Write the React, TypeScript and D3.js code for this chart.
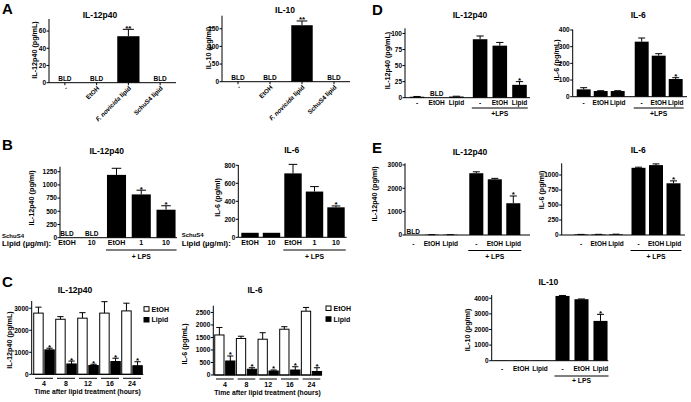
import React from "react";
import * as d3 from "d3";

const W = 691;
const H = 402;
const FONT = "'Liberation Sans', Arial, Helvetica, sans-serif";

// values, null = BLD (below limit of detection)
const aCategories = ["-", "EtOH", "F. novicida lipid", "SchuS4 lipid"];
const aIL12 = [null, null, 54, null];
const aIL12Err = [0, 0, 8, 0];
const aIL12Sig = ["", "", "**", ""];
const aIL10 = [null, null, 160, null];
const aIL10Err = [0, 0, 12, 0];
const aIL10Sig = ["", "", "**", ""];

const bCategories = ["EtOH", "10", "EtOH", "1", "10"];
const bIL12 = [null, null, 1190, 820, 530];
const bIL12Err = [0, 0, 125, 80, 75];
const bIL12Sig = ["", "", "", "*", "*"];
const bIL6 = [50, 50, 710, 508, 333];
const bIL6Err = [0, 0, 100, 55, 15];
const bIL6Sig = ["", "", "", "", "*"];

const cTimes = ["4", "8", "12", "16", "24"];
const cSeries = ["EtOH", "Lipid"];
const cIL12EtOH = [2780, 2500, 2550, 2780, 2880];
const cIL12EtOHErr = [270, 120, 250, 520, 350];
const cIL12Lipid = [1110, 470, 400, 580, 390];
const cIL12LipidErr = [75, 130, 55, 150, 180];
const cIL6EtOH = [1600, 1460, 1430, 1830, 2550];
const cIL6EtOHErr = [300, 90, 260, 100, 150];
const cIL6Lipid = [560, 230, 160, 200, 140];
const cIL6LipidErr = [200, 60, 40, 130, 150];
const cSig = ["*", "*", "*", "*", "*"];

const lpsCategories = ["-", "EtOH", "Lipid", "-", "EtOH", "Lipid"];
const dIL12 = [1.5, null, 1.8, 91, 81, 20];
const dIL12Err = [0.4, 0, 0.5, 5, 5, 5];
const dIL6 = [44, 34, 34, 330, 246, 106];
const dIL6Err = [10, 2, 2, 22, 12, 8];
const eIL12 = [null, 12, 12, 2645, 2385, 1360];
const eIL12Err = [0, 2, 2, 60, 40, 310];
const eIL6 = [8, 8, 10, 1120, 1165, 862];
const eIL6Err = [2, 3, 4, 10, 20, 40];
const eIL10 = [15, 25, 15, 4150, 3940, 2550];
const eIL10Err = [0, 0, 0, 30, 15, 420];
const lastSig = ["", "", "", "", "", "*"];

const fmt = d3.format("d");

function YAxis({ y, x0, base, top, ticks, label, labelAt }) {
  return (
    <g>
      <line x1={x0} x2={x0} y1={base} y2={top} stroke="#000" strokeWidth={1} />
      {ticks.map((t) => (
        <g key={t}>
          <line x1={x0 - 2.5} x2={x0} y1={y(t)} y2={y(t)} stroke="#000" strokeWidth={1} />
          <text x={x0 - 3} y={y(t)} dy="0.35em" textAnchor="end" fontSize={6.5} fontWeight="bold">
            {fmt(t)}
          </text>
        </g>
      ))}
      <text
        transform={`translate(${labelAt[0] - 0.7},${labelAt[1]}) rotate(-90)`}
        textAnchor="middle"
        dy="0.35em"
        fontSize={7.2}
        fontWeight="bold"
      >
        {label}
      </text>
    </g>
  );
}

function catText(c) {
  if (c.startsWith("F. novicida")) {
    return (
      <>
        <tspan fontStyle="italic">F. novicida</tspan>
        {c.slice(11)}
      </>
    );
  }
  return c;
}

function BarPanel(p) {
  const { cats, vals, errs, sig, axisX, base, top, yMax, ticks, band, pad, gap = 0, split = null } = p;
  const y = d3.scaleLinear().domain([0, yMax]).range([base, top]);
  const xb = d3
    .scaleBand<number>()
    .domain(d3.range(cats.length))
    .range(band)
    .paddingInner(pad)
    .paddingOuter(pad / 2);
  const bw = xb.bandwidth();
  const cx = (i: number) => (xb(i) as number) + bw / 2 + (split != null && i >= split ? gap : 0);
  const cap = bw * 0.25;

  return (
    <g>
      <text x={p.titleAt[0]} y={p.titleAt[1]} textAnchor="middle" fontSize={8.5} fontWeight="bold">
        {p.title}
      </text>
      {vals.map((v, i) =>
        v == null ? (
          <text key={i} x={cx(i)} y={base - 1.5} textAnchor="middle" fontSize={6.5} fontWeight="bold">
            BLD
          </text>
        ) : (
          <g key={i}>
            <rect x={cx(i) - bw / 2} y={y(v)} width={bw} height={base - y(v)} fill="#000" />
            {errs[i] > 0 && (
              <g stroke="#000" strokeWidth={1}>
                <line x1={cx(i)} x2={cx(i)} y1={y(v)} y2={y(v + errs[i])} />
                <line x1={cx(i) - cap} x2={cx(i) + cap} y1={y(v + errs[i])} y2={y(v + errs[i])} />
              </g>
            )}
            {sig[i] && (
              <text x={cx(i)} y={y(v + errs[i]) + 1.5} textAnchor="middle" fontSize={8} fontWeight="bold">
                {sig[i]}
              </text>
            )}
          </g>
        )
      )}
      <line x1={axisX[0]} x2={axisX[1]} y1={base} y2={base} stroke="#000" strokeWidth={1} />
      <YAxis y={y} x0={axisX[0]} base={base} top={top} ticks={ticks} label={p.yLabel} labelAt={p.yLabelAt} />
      {p.rotate
        ? cats.map((c, i) => (
            <g key={i}>
              <line x1={cx(i)} x2={cx(i)} y1={base} y2={base + 2.5} stroke="#000" strokeWidth={1} />
              <text
                transform={`translate(${cx(i) + 3},${base + 6}) rotate(-45)`}
                textAnchor="end"
                fontSize={6.3}
                fontWeight="bold"
              >
                {catText(c)}
              </text>
            </g>
          ))
        : cats.map((c, i) => (
            <text key={i} x={cx(i)} y={p.labelY} textAnchor="middle" fontSize={p.catSize || 6.5} fontWeight="bold">
              {c}
            </text>
          ))}
      {p.lps && (
        <g>
          <line
            x1={cx(split) - bw / 2 - 1}
            x2={cx(cats.length - 1) + bw / 2 + 1}
            y1={p.lps.lineY}
            y2={p.lps.lineY}
            stroke="#000"
            strokeWidth={1}
          />
          <text
            x={(cx(split) + cx(cats.length - 1)) / 2}
            y={p.lps.textY}
            textAnchor="middle"
            fontSize={6.8}
            fontWeight="bold"
          >
            {p.lps.text}
          </text>
        </g>
      )}
      {p.schu && (
        <g fontWeight="bold">
          <text x={p.schu[0]} y={base} fontSize={6}>
            SchuS4
          </text>
          <text x={p.schu[0]} y={p.labelY + 0.5} fontSize={7.8}>
            Lipid (µg/ml):
          </text>
        </g>
      )}
    </g>
  );
}

function TimePanel(p) {
  const { etoh, etohErr, lipid, lipidErr, axisX, base, top, yMax, ticks, band } = p;
  const y = d3.scaleLinear().domain([0, yMax]).range([base, top]);
  const xg = d3.scaleBand().domain(cTimes).range(band).paddingInner(0).paddingOuter(0);
  const xs = d3.scaleBand().domain(cSeries).range([0, xg.bandwidth()]).paddingInner(0.06).paddingOuter(0.02);
  const bw = xs.bandwidth();
  const cap = bw * 0.3;
  const series = [
    { key: "EtOH", vals: etoh, errs: etohErr, fill: "#fff" },
    { key: "Lipid", vals: lipid, errs: lipidErr, fill: "#000" },
  ];
  return (
    <g>
      <text x={p.titleAt[0]} y={p.titleAt[1]} textAnchor="middle" fontSize={8.5} fontWeight="bold">
        {p.title}
      </text>
      {cTimes.map((t, gi) => {
        const g0 = xg(t) as number;
        return (
          <g key={t}>
            {series.map((s) => {
              const x = g0 + (xs(s.key) as number);
              const v = s.vals[gi];
              const e = s.errs[gi];
              const c = x + bw / 2;
              return (
                <g key={s.key}>
                  <line x1={c} x2={c} y1={y(v)} y2={y(v + e)} stroke="#000" strokeWidth={1} />
                  <line x1={c - cap} x2={c + cap} y1={y(v + e)} y2={y(v + e)} stroke="#000" strokeWidth={1} />
                  <rect x={x + 0.5} y={y(v)} width={bw - 1} height={base - y(v)} fill={s.fill} stroke="#000" strokeWidth={1} />
                  {s.key === "Lipid" && (
                    <text x={c} y={y(v + e) + 1.5} textAnchor="middle" fontSize={8} fontWeight="bold">
                      {cSig[gi]}
                    </text>
                  )}
                </g>
              );
            })}
            <line
              x1={g0 + 2}
              x2={g0 + xg.bandwidth() - 2}
              y1={base + 4}
              y2={base + 4}
              stroke="#000"
              strokeWidth={1}
            />
            <text x={g0 + xg.bandwidth() / 2} y={base + 11.5} textAnchor="middle" fontSize={7} fontWeight="bold">
              {t}
            </text>
          </g>
        );
      })}
      <line x1={axisX[0]} x2={axisX[1]} y1={base} y2={base} stroke="#000" strokeWidth={1} />
      <YAxis y={y} x0={axisX[0]} base={base} top={top} ticks={ticks} label={p.yLabel} labelAt={p.yLabelAt} />
      <text x={(axisX[0] + axisX[1]) / 2} y={base + 19.7} textAnchor="middle" fontSize={6.8} fontWeight="bold">
        Time after lipid treatment (hours)
      </text>
      {series.map((s, i) => (
        <g key={s.key}>
          <rect
            x={p.legendAt[0]}
            y={p.legendAt[1] + i * 10.8}
            width={5}
            height={4.5}
            fill={s.fill}
            stroke="#000"
            strokeWidth={1}
          />
          <text x={p.legendAt[0] + 7.5} y={p.legendAt[1] + i * 10.8 + 4.8} fontSize={7} fontWeight="bold">
            {s.key}
          </text>
        </g>
      ))}
    </g>
  );
}

export default function App() {
  return (
    <svg
      width={W}
      height={H}
      style={{ position: "absolute", left: 0, top: 0, background: "#fff" }}
      fontFamily={FONT}
    >
      <rect width={W} height={H} fill="#fff" />
      <g fontSize={15} fontWeight="bold">
        <text x={2} y={13.5}>A</text>
        <text x={2} y={150}>B</text>
        <text x={2} y={287}>C</text>
        <text x={372} y={15}>D</text>
        <text x={372} y={153}>E</text>
      </g>

      {/* A */}
      <BarPanel
        cats={aCategories} vals={aIL12} errs={aIL12Err} sig={aIL12Sig}
        axisX={[49, 176]} base={82.7} top={19} yMax={74} ticks={[0, 20, 40, 60]}
        band={[49, 176]} pad={0.3} rotate
        title="IL-12p40" titleAt={[100, 18]} yLabel="IL-12p40 (pg/mL)" yLabelAt={[35, 50]}
      />
      <BarPanel
        cats={aCategories} vals={aIL10} errs={aIL10Err} sig={aIL10Sig}
        axisX={[222, 350]} base={81.7} top={15.7} yMax={187} ticks={[0, 50, 100, 150]}
        band={[222, 350]} pad={0.33} rotate
        title="IL-10" titleAt={[285, 12.5]} yLabel="IL-10 (pg/ml)" yLabelAt={[209, 48]}
      />

      {/* B */}
      <BarPanel
        cats={bCategories} vals={bIL12} errs={bIL12Err} sig={bIL12Sig}
        axisX={[60, 177]} base={237.7} top={166.7} yMax={1345} ticks={[0, 250, 500, 750, 1000, 1250]}
        band={[54.6, 178.4]} pad={0.23} split={2} labelY={245} catSize={7}
        lps={{ lineY: 250, textY: 259, text: "+ LPS" }} schu={[2]}
        title="IL-12p40" titleAt={[106.7, 154]} yLabel="IL-12p40 (pg/ml)" yLabelAt={[31.7, 198]}
      />
      <BarPanel
        cats={bCategories} vals={bIL6} errs={bIL6Err} sig={bIL6Sig}
        axisX={[238.3, 346.7]} base={237.3} top={165} yMax={803} ticks={[0, 200, 400, 600, 800]}
        band={[239.25, 346.75]} pad={0.19} split={2} labelY={245} catSize={7}
        lps={{ lineY: 250, textY: 259, text: "+ LPS" }} schu={[181.7]}
        title="IL-6" titleAt={[291.7, 153]} yLabel="IL-6 (pg/ml)" yLabelAt={[218.3, 197.5]}
      />

      {/* C */}
      <TimePanel
        etoh={cIL12EtOH} etohErr={cIL12EtOHErr} lipid={cIL12Lipid} lipidErr={cIL12LipidErr}
        axisX={[31.7, 143.3]} base={374.3} top={301} yMax={3330} ticks={[0, 1000, 2000, 3000]}
        band={[33, 143]} legendAt={[144, 306.7]}
        title="IL-12p40" titleAt={[75, 293]} yLabel="IL-12p40 (pg/mL)" yLabelAt={[10, 340]}
      />
      <TimePanel
        etoh={cIL6EtOH} etohErr={cIL6EtOHErr} lipid={cIL6Lipid} lipidErr={cIL6LipidErr}
        axisX={[213.3, 321.7]} base={375} top={305.7} yMax={2770} ticks={[0, 500, 1000, 1500, 2000, 2500]}
        band={[214, 322.3]} legendAt={[326, 306]}
        title="IL-6" titleAt={[255, 293]} yLabel="IL-6 (pg/mL)" yLabelAt={[185, 344]}
      />

      {/* D */}
      <BarPanel
        cats={lpsCategories} vals={dIL12} errs={dIL12Err} sig={lastSig}
        axisX={[405, 530]} base={97.7} top={28.3} yMax={108} ticks={[0, 25, 50, 75, 100]}
        band={[407.15, 525.35]} pad={0.26} gap={4} split={3} labelY={105}
        lps={{ lineY: 108, textY: 116, text: "+LPS" }}
        title="IL-12p40" titleAt={[470, 18]} yLabel="IL-12p40 (pg/mL)" yLabelAt={[388.3, 60.5]}
      />
      <BarPanel
        cats={lpsCategories} vals={dIL6} errs={dIL6Err} sig={lastSig}
        axisX={[572.7, 687]} base={96.7} top={29.5} yMax={403} ticks={[0, 100, 200, 300, 400]}
        band={[575.2, 677.2]} pad={0.18} gap={7} split={3} labelY={105}
        lps={{ lineY: 108, textY: 116, text: "+LPS" }}
        title="IL-6" titleAt={[638.3, 18]} yLabel="IL-6 (pg/mL)" yLabelAt={[556.7, 60]}
      />

      {/* E */}
      <BarPanel
        cats={lpsCategories} vals={eIL12} errs={eIL12Err} sig={lastSig}
        axisX={[405, 530]} base={235} top={163.3} yMax={3070} ticks={[0, 1000, 2000, 3000]}
        band={[404.05, 515.05]} pad={0.24} gap={7.5} split={3} labelY={245.5}
        lps={{ lineY: 250.5, textY: 259, text: "+ LPS" }}
        title="IL-12p40" titleAt={[470, 154.7]} yLabel="IL-12p40 (pg/ml)" yLabelAt={[375, 194]}
      />
      <BarPanel
        cats={lpsCategories} vals={eIL6} errs={eIL6Err} sig={lastSig}
        axisX={[561.7, 685]} base={235} top={163.3} yMax={1195} ticks={[0, 250, 500, 750, 1000]}
        band={[572.25, 677.25]} pad={0.2} gap={5} split={3} labelY={245.5}
        lps={{ lineY: 250.5, textY: 259, text: "+ LPS" }}
        title="IL-6" titleAt={[638.3, 153]} yLabel="IL-6 (pg/ml)" yLabelAt={[541.7, 190]}
      />
      <BarPanel
        cats={lpsCategories} vals={eIL10} errs={eIL10Err} sig={lastSig}
        axisX={[491.7, 608.3]} base={360.7} top={295} yMax={4210} ticks={[0, 1000, 2000, 3000, 4000]}
        band={[492.5, 606.5]} pad={0.26} gap={3.5} split={3} labelY={371}
        lps={{ lineY: 376, textY: 383, text: "+ LPS" }}
        title="IL-10" titleAt={[548.3, 284.7]} yLabel="IL-10 (pg/ml)" yLabelAt={[468.3, 330]}
      />
    </svg>
  );
}
